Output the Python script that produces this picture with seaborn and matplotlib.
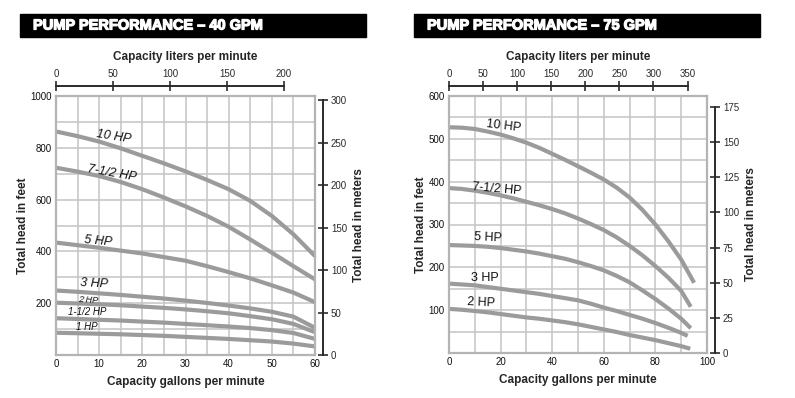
import numpy as np
import pandas as pd
import matplotlib
matplotlib.use('Agg')
import matplotlib.pyplot as plt
import matplotlib.patches as patches
import matplotlib.patheffects as pe
import seaborn as sns

# --- dados ---
# bomba 40 GPM (pés x galões por minuto)
gpm_40 = [0, 5, 10, 15, 20, 25, 30, 35, 40, 45, 50, 55, 60]
hp10_40 = [863, 845, 824, 798, 769, 740, 709, 676, 640, 595, 537, 466, 382]
hp75_40 = [723, 708, 691, 668, 640, 608, 574, 537, 495, 446, 395, 343, 292]
hp5_40 = [434, 424, 414, 403, 392, 378, 364, 343, 320, 296, 269, 241, 204]
hp3_40 = [249, 244, 238, 232, 225, 218, 210, 201, 191, 180, 167, 148, 105]
hp2_40 = [202, 199, 196, 192, 187, 182, 176, 169, 161, 150, 138, 120, 88]
hp15_40 = [142, 139, 136, 133, 129, 125, 120, 115, 110, 104, 96, 85, 62]
hp1_40 = [86, 84, 82, 80, 77, 74, 70, 66, 62, 57, 52, 44, 33]

# bomba 75 GPM
gpm_75 = [0, 5, 10, 15, 20, 25, 30, 35, 40, 45, 50, 55, 60, 65, 70, 75, 80, 85, 90]
hp10_75 = [527, 526, 523, 517, 510, 501, 491, 479, 465, 451, 436, 421, 405, 386, 363, 334, 300, 261, 218]
hp75_75 = [385, 383, 379, 374, 368, 361, 353, 345, 336, 326, 314, 301, 287, 270, 250, 228, 203, 176, 145]
hp5_75 = [252, 251, 250, 248, 245, 241, 237, 232, 226, 220, 212, 203, 193, 180, 165, 146, 126, 104, 80]
hp3_75 = [162, 160, 158, 154, 150, 146, 142, 138, 133, 128, 123, 115, 106, 98, 89, 80, 70, 59, 47]
hp2_75 = [103, 101, 98, 95, 91, 87, 83, 80, 76, 72, 67, 61, 55, 49, 42, 36, 30, 23, 16]
end_gpm_75 = [95, 93.7, 93.7, 92.5, 93.5]
end_feet_75 = [164, 108, 58, 40, 10]

labels_40 = ['10 HP', '7-1/2 HP', '5 HP', '3 HP', '2 HP', '1-1/2 HP', '1 HP']
labels_75 = ['10 HP', '7-1/2 HP', '5 HP', '3 HP', '2 HP']

GRAY = '#9b9b9b'
GRID = '#c4c4c4'
DARK = '#2b2b2b'
LPM = 3.785411784
M = 0.3048

sns.set_theme(style='white')
plt.rcParams['font.family'] = ['Liberation Sans', 'DejaVu Sans']


def monta_df(gpm, series, labels, extra_x=None, extra_y=None):
    linhas = []
    for i, (lab, vals) in enumerate(zip(labels, series)):
        xs = list(gpm)
        ys = list(vals)
        if extra_x is not None:
            xs.append(extra_x[i])
            ys.append(extra_y[i])
        for x, y in zip(xs, ys):
            linhas.append({'gpm': x, 'feet': y, 'hp': lab})
    return pd.DataFrame(linhas)


df40 = monta_df(gpm_40, [hp10_40, hp75_40, hp5_40, hp3_40, hp2_40, hp15_40, hp1_40], labels_40)
df75 = monta_df(gpm_75, [hp10_75, hp75_75, hp5_75, hp3_75, hp2_75], labels_75,
                end_gpm_75, end_feet_75)

fig = plt.figure(figsize=(7.95, 3.98), dpi=100)


def painel(rect, df, labels, xmax, xstep, xlab_step, ymax, ystep, ylab_step,
           lpm_max, lpm_step, m_max, m_step, titulo, band_x):
    ax = fig.add_axes(rect)
    sns.lineplot(data=df, x='gpm', y='feet', hue='hp', palette={l: GRAY for l in labels},
                 legend=False, ax=ax, linewidth=3, errorbar=None)
    for ln in ax.lines:
        ln.set_solid_capstyle('butt')
        ln.set_solid_joinstyle('round')
    ax.set_xlim(0, xmax)
    ax.set_ylim(0, ymax)
    xt = np.arange(0, xmax + 1, xstep)
    ax.set_xticks(xt, [str(int(v)) if v % xlab_step == 0 else '' for v in xt])
    yt = np.arange(0, ymax + 1, ystep)
    ax.set_yticks(yt, [str(int(v)) if (v % ylab_step == 0 and v > 0) else '' for v in yt])
    ax.tick_params(length=0, labelsize=7, pad=3, colors='#111111')
    ax.grid(True, color=GRID, linewidth=1.1)
    for s in ax.spines.values():
        s.set_color('#b4b4b4')
        s.set_linewidth(1.6)
    ax.set_xlabel('Capacity gallons per minute', fontsize=8.5, fontweight='bold', labelpad=5)
    ax.set_ylabel('Total head in feet', fontsize=8.5, fontweight='bold', labelpad=1)

    # eixo superior em litros por minuto
    axt = ax.twiny()
    axt.set_xlim(0, xmax * LPM)
    axt.set_xticks(np.arange(0, lpm_max + 1, lpm_step))
    axt.tick_params(axis='x', direction='inout', length=7, width=1.2, colors=DARK,
                    labelsize=7, pad=2)
    for k in ['bottom', 'left', 'right']:
        axt.spines[k].set_visible(False)
    axt.spines['top'].set_position(('outward', 7))
    axt.spines['top'].set_bounds(0, lpm_max)
    axt.spines['top'].set_color(DARK)
    axt.spines['top'].set_linewidth(1.4)
    axt.set_xlabel('Capacity liters per minute', fontsize=8.5, fontweight='bold', labelpad=6)

    # eixo direito em metros
    axr = ax.twinx()
    axr.set_ylim(0, ymax * M)
    axr.set_yticks(np.arange(0, m_max + 1, m_step))
    axr.tick_params(axis='y', direction='inout', length=7, width=1.2, colors=DARK,
                    labelsize=7, pad=2)
    for k in ['bottom', 'left', 'top']:
        axr.spines[k].set_visible(False)
    axr.spines['right'].set_position(('outward', 6))
    axr.spines['right'].set_bounds(0, m_max)
    axr.spines['right'].set_color(DARK)
    axr.spines['right'].set_linewidth(1.4)
    axr.set_ylabel('Total head in meters', fontsize=8.5, fontweight='bold', labelpad=4)

    # faixa preta do título
    fig.patches.append(patches.Rectangle((band_x / 795, 1 - 37 / 398), 346 / 795, 23 / 398,
                                         transform=fig.transFigure, color='black'))
    fig.text((band_x + 13) / 795, 1 - 25.5 / 398, titulo, color='white', fontsize=10.5,
             fontweight='bold', va='center', ha='left',
             path_effects=[pe.withStroke(linewidth=0.9, foreground='white')])
    return ax


ax1 = painel([56 / 795, 43 / 398, 259 / 795, 259 / 398], df40, labels_40,
             60, 5, 10, 1000, 100, 200, 200, 50, 300, 50,
             'PUMP PERFORMANCE \u2013 40 GPM', 20)
ax2 = painel([449 / 795, 45 / 398, 258 / 795, 257 / 398], df75, labels_75,
             100, 10, 20, 600, 50, 100, 350, 50, 175, 25,
             'PUMP PERFORMANCE \u2013 75 GPM', 414)

# rótulos das curvas
pos_40 = [(13.3, 842, -9, 9), (12.9, 703, -10, 9), (9.8, 441, -5, 9), (8.8, 274, -3, 9),
          (7.5, 212, -3, 6.5), (7.3, 166, 0, 7), (7.1, 109, 0, 7)]
for lab, (x, y, rot, fs) in zip(labels_40, pos_40):
    ax1.text(x, y, lab, rotation=rot, fontsize=fs, style='italic', ha='center', va='center',
             color='#111111')

pos_75 = [(21, 529, -7), (18.7, 383, -5), (15.1, 269, -3), (13.8, 175, 0), (12.6, 118, -3)]
for lab, (x, y, rot) in zip(labels_75, pos_75):
    ax2.text(x, y, lab, rotation=rot, fontsize=9, ha='center', va='center', color='#111111')

fig.savefig('out.png', dpi=100)
